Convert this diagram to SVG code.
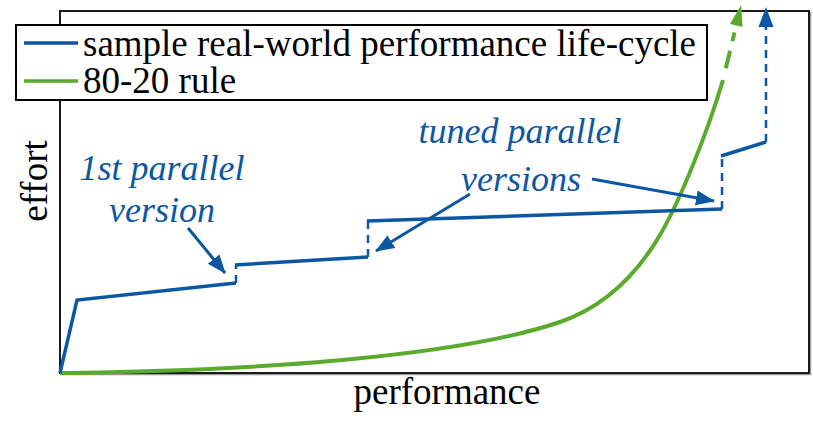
<svg xmlns="http://www.w3.org/2000/svg" width="813" height="421" viewBox="0 0 813 421">
<style>
.blue{fill:none;stroke:#0b57a3;stroke-width:3.5;stroke-linejoin:miter}
.bdash{fill:none;stroke:#0b57a3;stroke-width:2.5;stroke-dasharray:8 6}
.green{fill:none;stroke:#5aab2d;stroke-width:4;stroke-linejoin:round;stroke-linecap:butt}
.lbl{fill:#0b57a3;font-family:"Liberation Serif","Times New Roman",serif;font-style:italic;font-size:36px;text-anchor:middle}
.txt{fill:#000;font-family:"Liberation Serif","Times New Roman",serif;font-size:37px}
.ptr{fill:none;stroke:#0b57a3;stroke-width:3}
</style>
<defs>
<marker id="ab" markerUnits="userSpaceOnUse" markerWidth="20" markerHeight="20" viewBox="0 0 20 20" refX="18" refY="10" orient="auto">
<path d="M0,2.5 L19,10 L0,17.5 Z" fill="#0b57a3"/>
</marker>
<marker id="abBase" markerUnits="userSpaceOnUse" markerWidth="20" markerHeight="20" viewBox="0 0 20 20" refX="0" refY="10" orient="auto">
<path d="M0,2.5 L20,10 L0,17.5 Z" fill="#0b57a3"/>
</marker>
<marker id="agBase" markerUnits="userSpaceOnUse" markerWidth="22" markerHeight="20" viewBox="0 0 22 20" refX="0" refY="10" orient="auto">
<path d="M0,3.5 L21,10 L0,16.5 Z" fill="#5aab2d"/>
</marker>
</defs>
<rect x="61.5" y="12.5" width="749" height="362" fill="none" stroke="#999" stroke-width="1.5"/>
<rect id="frame" x="60" y="11" width="749" height="362" fill="#fff" stroke="#1a1a1a" stroke-width="2"/>
<g id="connectors">
<path id="green-curve" class="green" d="M60,373 C260,371 460,356 560,322 C595,310 630,286 660,235 C680,201 708,131 723,80"/>
<path class="green" d="M723,80 L736.2,25.5" stroke-dasharray="0 12 18 10 9 100" marker-end="url(#agBase)"/>
<path id="blue-curve" class="blue" d="M60,373 L77,300 L236,283"/>
<line class="bdash" x1="236" y1="283" x2="236" y2="265"/>
<path class="blue" d="M235,265 L368,257"/>
<line class="bdash" x1="368" y1="257" x2="368" y2="221"/>
<path class="blue" d="M367,221 L722,209"/>
<line class="bdash" x1="722" y1="209" x2="722" y2="156"/>
<path class="blue" d="M721,156 L766,142"/>
<line class="bdash" x1="766" y1="142" x2="766" y2="27" marker-end="url(#abBase)"/>
<line class="ptr" x1="188" y1="228" x2="225" y2="273" marker-end="url(#ab)"/>
<line class="ptr" x1="470" y1="194" x2="376" y2="251" marker-end="url(#ab)"/>
<line class="ptr" x1="592" y1="179" x2="714" y2="201" marker-end="url(#ab)"/>
</g>
<g id="label-first">
<text class="lbl" x="162" y="180">1st parallel</text>
<text class="lbl" x="162" y="222">version</text>
</g>
<g id="label-tuned">
<text class="lbl" x="520" y="143">tuned parallel</text>
<text class="lbl" x="521" y="191">versions</text>
</g>
<g id="legend">
<rect x="16" y="25" width="691" height="75" fill="#fff" stroke="#000" stroke-width="2"/>
<line x1="24" y1="43" x2="78" y2="43" stroke="#0b57a3" stroke-width="3.5"/>
<line x1="24" y1="81" x2="78" y2="81" stroke="#5aab2d" stroke-width="3.5"/>
<text class="txt" x="83" y="56" textLength="613" lengthAdjust="spacingAndGlyphs">sample real-world performance life-cycle</text>
<text class="txt" x="83" y="93">80-20 rule</text>
</g>
<g id="axis-labels">
<text class="txt" x="447" y="404" text-anchor="middle">performance</text>
<text class="txt" transform="translate(47,181) rotate(-90)" text-anchor="middle">effort</text>
</g>
</svg>
